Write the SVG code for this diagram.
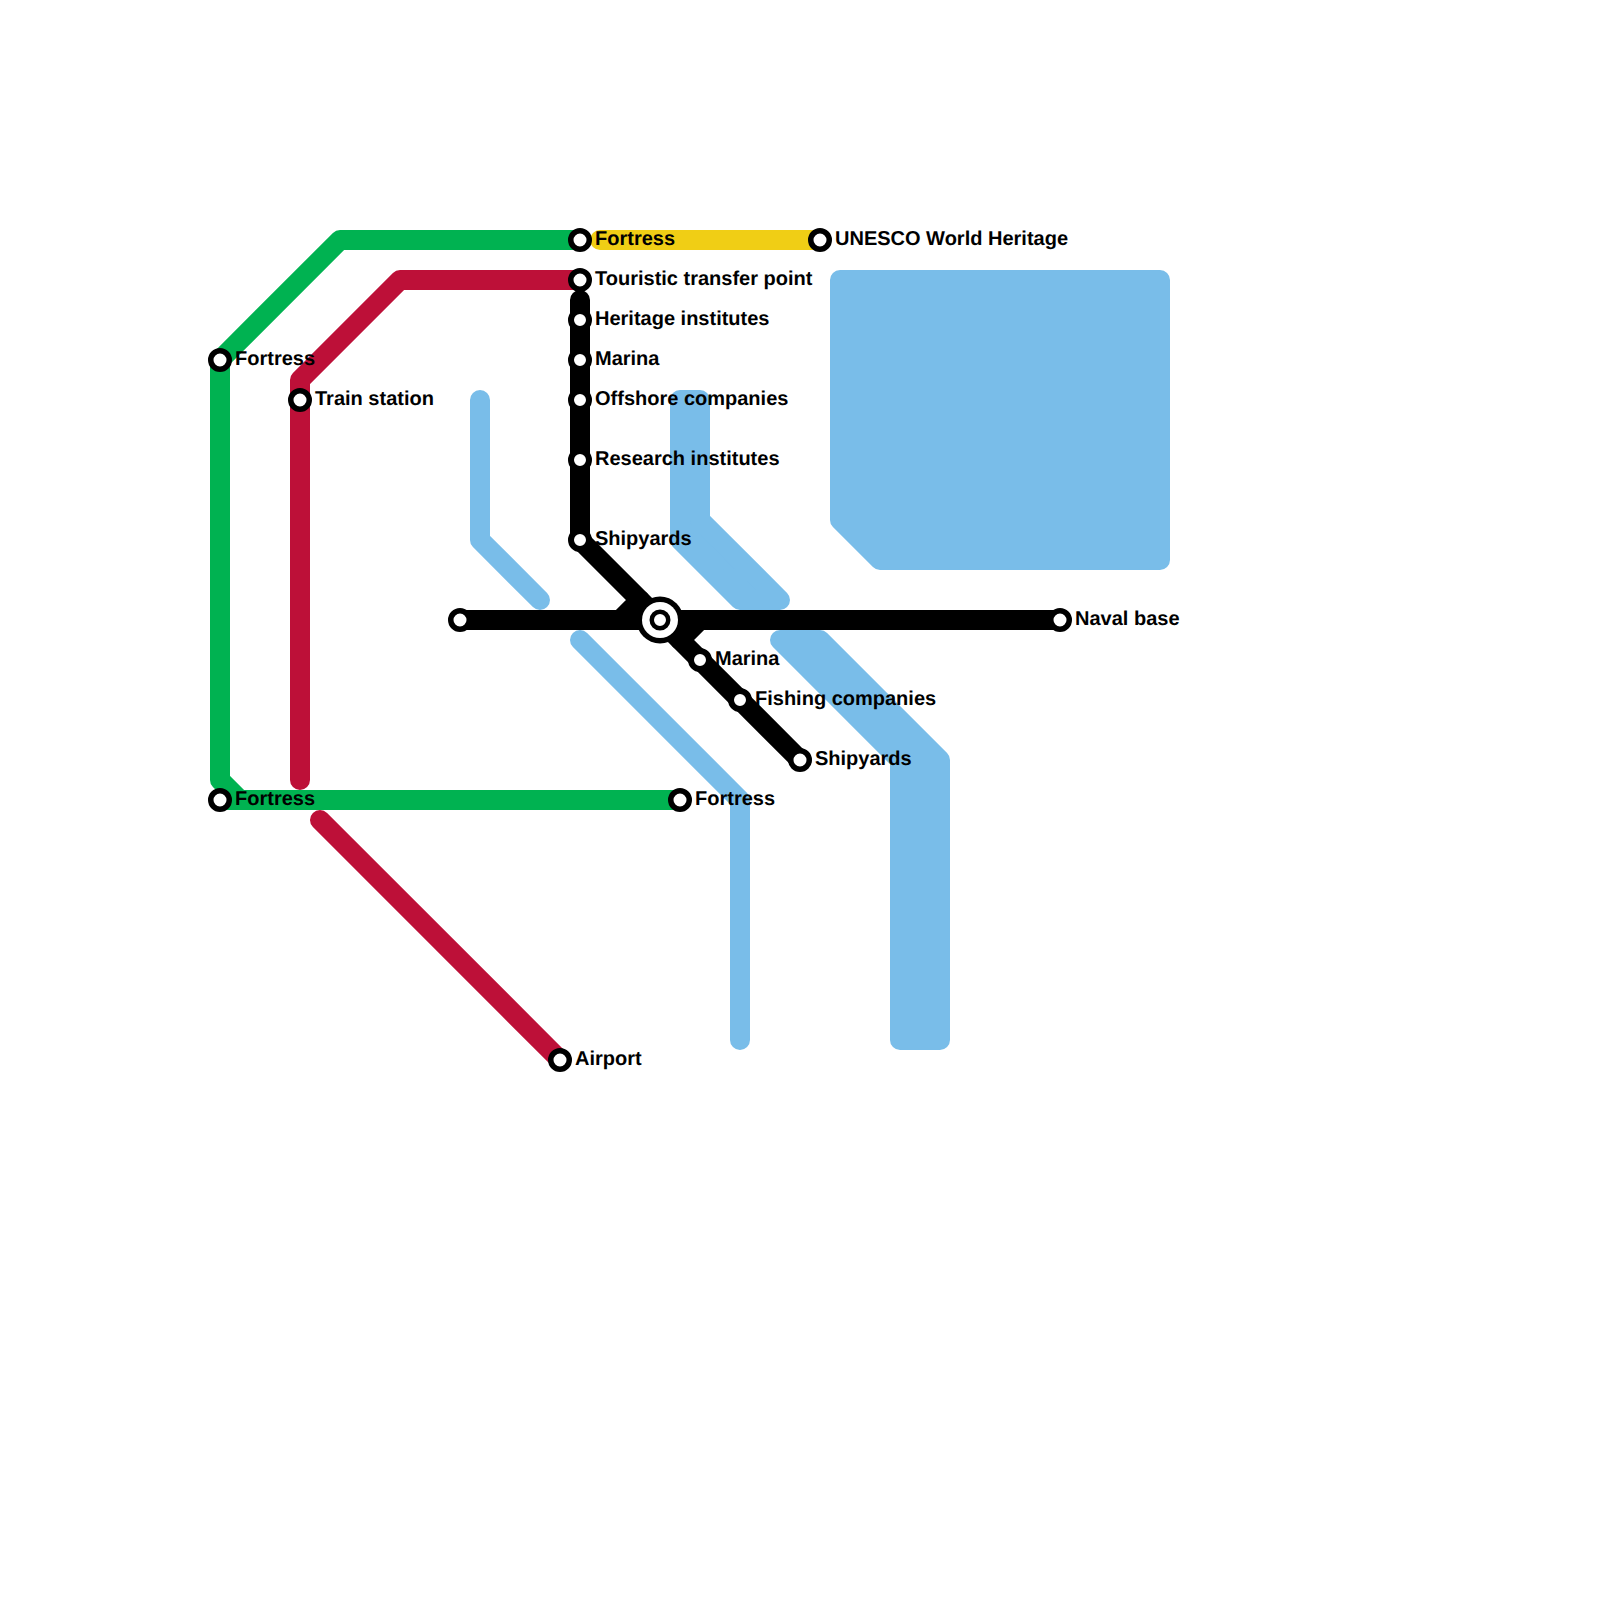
<svg xmlns="http://www.w3.org/2000/svg" width="1600" height="1600" viewBox="0 0 1600 1600">
<style>
.l{fill:none;stroke-width:20;stroke-linecap:round;stroke-linejoin:round}
.b{stroke:#79bde9}
.bf{fill:#79bde9;stroke:#79bde9;stroke-width:20;stroke-linejoin:round}
.g{stroke:#00b251}.r{stroke:#bd1038}.y{stroke:#f0ce15}.k{stroke:#000}
.s{fill:#fff;stroke:#000;stroke-width:5.5}
.m{fill:#fff;stroke:#000;stroke-width:6}
text{font-family:"Liberation Sans",Arial,sans-serif;font-weight:700;font-size:20px;fill:#000;text-rendering:geometricPrecision}
</style>
<g id="water">
<polygon class="bf" points="840,280 1160,280 1160,560 880,560 840,520"/>
<polygon class="bf" points="680,400 700,400 700,520 780,600 740,600 680,540"/>
<polygon class="bf" points="780,640 820,640 940,760 940,1040 900,1040 900,760"/>
<path class="l b" d="M480 400V540L540 600"/>
<path class="l b" d="M580 640L740 800V1040"/>
</g>
<g id="connectors">
<path class="l g" d="M580 240H340L220 360V780L240 800H680M220 800H240"/>
<path class="l r" d="M580 280H400L300 380V780"/>
<path class="l r" d="M320 820L560 1060"/>
<path class="l y" d="M600 240H820"/>
<path class="l k" d="M580 300V540L640 600L620 620H460"/>
<path class="l k" d="M1060 620H700L680 640L800 760"/>
<path class="l k" d="M620 620H700M640 600L680 640"/>
</g>
<g id="n-fortress-nw"><circle class="s" cx="220" cy="360" r="9.25"/><text x="235" y="365">Fortress</text></g>
<g id="n-fortress-sw"><circle class="s" cx="220" cy="800" r="9.25"/><text x="235" y="805">Fortress</text></g>
<g id="n-train"><circle class="s" cx="300" cy="400" r="9.25"/><text x="315" y="405">Train station</text></g>
<g id="n-fortress-n"><circle class="s" cx="580" cy="240" r="9.25"/><text x="595" y="245">Fortress</text></g>
<g id="n-touristic"><circle class="s" cx="580" cy="280" r="9.25"/><text x="595" y="285">Touristic transfer point</text></g>
<g id="n-heritage"><circle class="m" cx="580" cy="320" r="9"/><text x="595" y="325">Heritage institutes</text></g>
<g id="n-marina-n"><circle class="m" cx="580" cy="360" r="9"/><text x="595" y="365">Marina</text></g>
<g id="n-offshore"><circle class="m" cx="580" cy="400" r="9"/><text x="595" y="405">Offshore companies</text></g>
<g id="n-research"><circle class="m" cx="580" cy="460" r="9"/><text x="595" y="465">Research institutes</text></g>
<g id="n-shipyards-n"><circle class="m" cx="580" cy="540" r="9"/><text x="595" y="545">Shipyards</text></g>
<g id="n-west"><circle class="s" cx="460" cy="620" r="9.25"/></g>
<g id="n-hub"><circle cx="660" cy="620" r="23.5" fill="#000"/><circle cx="660" cy="620" r="18" fill="#fff"/><circle cx="660" cy="620" r="8.25" fill="#fff" stroke="#000" stroke-width="4.5"/></g>
<g id="n-naval"><circle class="s" cx="1060" cy="620" r="9.25"/><text x="1075" y="625">Naval base</text></g>
<g id="n-marina-s"><circle class="m" cx="700" cy="660" r="9"/><text x="715" y="665">Marina</text></g>
<g id="n-fishing"><circle class="m" cx="740" cy="700" r="9"/><text x="755" y="705">Fishing companies</text></g>
<g id="n-shipyards-s"><circle class="s" cx="800" cy="760" r="9.25"/><text x="815" y="765">Shipyards</text></g>
<g id="n-unesco"><circle class="s" cx="820" cy="240" r="9.25"/><text x="835" y="245">UNESCO World Heritage</text></g>
<g id="n-fortress-s"><circle class="s" cx="680" cy="800" r="9.25"/><text x="695" y="805">Fortress</text></g>
<g id="n-airport"><circle class="s" cx="560" cy="1060" r="9.25"/><text x="575" y="1065">Airport</text></g>
</svg>
